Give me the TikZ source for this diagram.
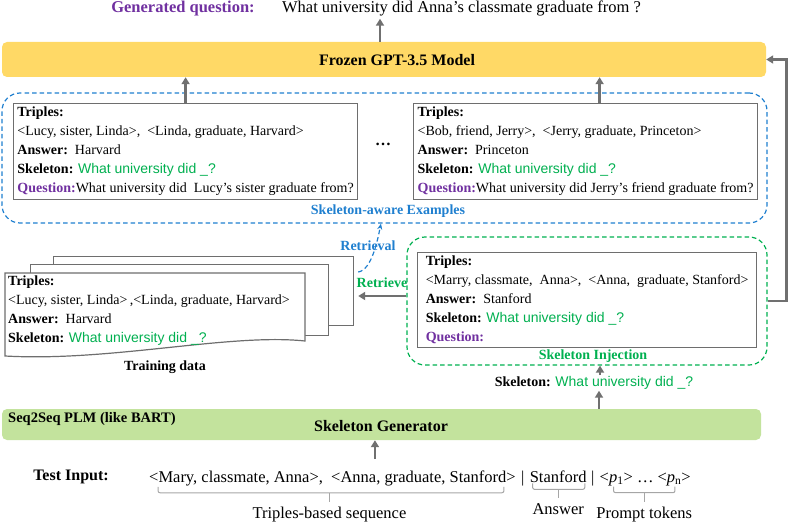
\documentclass[tikz,border=0pt]{standalone}
\usepackage{fontspec}
\setmainfont{Liberation Serif}
\newfontfamily\skelfont{Liberation Sans}
\usetikzlibrary{arrows.meta,
	positioning,
	calc}

\definecolor{qpurple}{HTML}{7030A0}
\definecolor{exblue}{HTML}{1F7FCF}
\definecolor{skgreen}{HTML}{00B050}
\definecolor{gptyellow}{HTML}{FFD966}
\definecolor{gengreen}{HTML}{C3E39D}
\definecolor{arrowgray}{HTML}{707070}
\definecolor{boxgray}{HTML}{6E6E6E}
\definecolor{bracegray}{HTML}{A6A6A6}

\tikzset{
	modelbox/.style={rounded corners=5pt, minimum height=35pt, inner sep=0pt},
	examplebox/.style={draw=boxgray, line width=1.2pt, fill=white, align=left,
		inner sep=2pt, anchor=north west, font=\fontsize{14}{19}\selectfont},
	region/.style={line width=1.2pt, dash pattern=on 4.5pt off 3pt,
		rounded corners=18pt, inner sep=0pt},
	grayarrow/.style={draw=arrowgray, line width=2.5pt, -{Triangle[length=7pt,width=8pt]}},
	sheet/.style={draw=boxgray, line width=1.2pt, fill=white, inner sep=0pt, anchor=north west},
	tokbrace/.style={draw=bracegray, line width=1pt, rounded corners=2pt},
	toklabel/.style={font=\fontsize{16.5}{18}\selectfont, inner sep=1pt, anchor=north},
	seqtext/.style={font=\fontsize{16.5}{18}\selectfont, inner sep=1pt},
	boldlabel/.style={font=\fontsize{14}{16}\selectfont\bfseries, inner sep=1pt}
}
\newcommand{\skeltext}{{\color{skgreen}\skelfont What university did \_?}}

\begin{document}
\begin{tikzpicture}[x=1pt,y=-1pt]
	\useasboundingbox (0,0) rectangle (789,524);

	%generated question
	\node[font=\fontsize{16.5}{18}\selectfont\bfseries, text=qpurple, inner sep=2pt] (genlbl) at (183,9) {Generated question:};
	\node[font=\fontsize{16.5}{18}\selectfont, inner sep=2pt, base right=23pt of genlbl] (genq) {What university did Anna’s classmate graduate from ?};

	%frozen model
	\node[modelbox, fill=gptyellow, minimum width=764pt] (gpt) at (384,59.5) {};
	\node[font=\fontsize{16}{18}\selectfont\bfseries] (gptlbl) at (397,60) {Frozen GPT-3.5 Model};
	\draw[grayarrow] ($(gpt.north)+(-4,0)$) -- ($(gpt.north |- genq.south)+(-4,0)$);

	%skeleton-aware examples
	\node[region, draw=exblue, minimum width=765pt, minimum height=130pt] (examples) at (384.5,158) {};
	\node[boldlabel, text=exblue] (exlbl) at (388,211) {Skeleton-aware Examples};

	\node[examplebox, minimum width=344pt, minimum height=96pt] (ex1) at (13,103) {%
		\textbf{Triples:}\\
		<Lucy, sister, Linda>,\ \ <Linda, graduate, Harvard>\\
		\textbf{Answer:}\ \ Harvard\\
		\textbf{Skeleton:} \skeltext\\
		\textbf{\color{qpurple}Question:}What university did\ \ Lucy’s sister graduate from?};
	\node[examplebox, minimum width=344pt, minimum height=96pt] (ex2) at (413,103) {%
		\textbf{Triples:}\\
		<Bob, friend, Jerry>,\ \ <Jerry, graduate, Princeton>\\
		\textbf{Answer:}\ \ Princeton\\
		\textbf{Skeleton:} \skeltext\\
		\textbf{\color{qpurple}Question:}What university did Jerry’s friend graduate from?};
	\node[font=\fontsize{16}{18}\selectfont\bfseries] (exdots) at (383,144) {…};

	\draw[grayarrow] (ex1.north) -- (ex1.north |- gpt.south);
	\draw[grayarrow] ($(ex2.north)+(14,0)$) -- ($(ex2.north |- gpt.south)+(14,0)$);

	%training data
	\node[sheet, minimum width=300pt, minimum height=69pt] (sheetback) at (53,256) {};
	\node[sheet, minimum width=298pt, minimum height=71pt] (sheetmid) at (30,264) {};
	\draw[draw=boxgray, line width=1.2pt, fill=white] (5,273) -- (305,273) -- (305,341)
		.. controls (230,333) and (110,362) .. (5,356) -- cycle;
	\node[anchor=north west, align=left, inner sep=3pt, font=\fontsize{14}{18.7}\selectfont] (train) at (5,273) {%
		\textbf{Triples:}\\
		<Lucy, sister, Linda>\,,<Linda, graduate, Harvard>\\
		\textbf{Answer:}\ \ Harvard\\
		\textbf{Skeleton:} \skeltext};
	\node[boldlabel] (trainlbl) at (165,367) {Training data};

	%skeleton injection
	\node[region, draw=skgreen, minimum width=360pt, minimum height=128pt] (injregion) at (587,301) {};
	\node[examplebox, minimum width=339pt, minimum height=95pt] (query) at (417,252) {%
		\textbf{Triples:}\\
		<Marry, classmate,\ \ Anna>,\ \ <Anna,\ \ graduate, Stanford>\\
		\textbf{Answer:}\ \ Stanford\\
		\textbf{Skeleton:} \skeltext\\
		\textbf{\color{qpurple}Question:}};
	\node[boldlabel, text=skgreen] (injlbl) at (593,356) {Skeleton Injection};

	%retrieval
	\node[boldlabel, text=exblue] (retrievallbl) at (368,246) {Retrieval};
	\node[boldlabel, text=skgreen] (retrievelbl) at (382,283) {Retrieve};
	\draw[grayarrow] ($(injregion.west)+(0,-5)$) -- ($(injregion.west -| sheetback.east)+(4,-5)$);
	\draw[exblue, line width=1.2pt, dash pattern=on 4.5pt off 3pt, -{Stealth[length=6pt,width=5pt]}]
		($(sheetback.north east)+(4,16)$) .. controls +(14,-2) and +(-3,14) .. ($(examples.south)+(-3.5,0)$);

	%back to the model
	\draw[grayarrow] (injregion.east) -- ++(19,0) |- (gpt.east);

	%skeleton generator
	\node[font=\fontsize{14}{16}\selectfont, inner sep=1pt] (skelout) at (594,383) {\textbf{Skeleton:} \skeltext};
	\draw[grayarrow] ($(skelout.north)+(6,0)$) -- ($(skelout.north |- injregion.south)+(6,0)$);

	\node[modelbox, fill=gengreen, minimum width=759pt, minimum height=31pt] (gen) at (381.5,424.5) {};
	\node[font=\fontsize{16}{18}\selectfont\bfseries] (genname) at (381,426) {Skeleton Generator};
	\node[font=\fontsize{14.5}{16}\selectfont\bfseries, anchor=west, inner sep=1pt] (plmlbl) at (7,419) {Seq2Seq PLM (like BART)};
	\draw[grayarrow] ($(skelout.south |- gen.north)+(5,0)$) -- ($(skelout.south)+(5,0)$);

	%test input
	\node[font=\fontsize{16}{18}\selectfont\bfseries] (testlbl) at (71,477) {Test Input:};
	\node[seqtext, anchor=base west] (seqtrip) at (148,482) {<Mary, classmate, Anna>,\ \ <Anna, graduate, Stanford>};
	\node[seqtext, base right=3pt of seqtrip] (bar1) {|};
	\node[seqtext, base right=3pt of bar1] (seqans) {Stanford};
	\node[seqtext, base right=2pt of seqans] (bar2) {|};
	\node[seqtext, base right=3pt of bar2] (seqprompt) {<\textit{p}\textsubscript{1}> … <\textit{p}\textsubscript{n}>};
	\draw[grayarrow] ($(seqtrip.north)+(42.5,-10)$) -- ($(seqtrip.north |- gen.south)+(42.5,0)$);

	%braces
	\draw[tokbrace] ($(seqtrip.south west)+(10,0)$) -- ++(0,6) -- ($(seqtrip.south east)+(-13,6)$) -- ++(0,-6);
	\coordinate (triptick) at ($(seqtrip.south)+(-3,15)$);
	\draw[tokbrace] ($(seqtrip.south)+(-3,6)$) -- (triptick);
	\node[toklabel] (triplbl) at ($(triptick)+(0,4)$) {Triples-based sequence};

	\draw[tokbrace] ($(seqans.south west)+(4,0)$) -- ++(0,6) -- ($(seqans.south east)+(-3,6)$) -- ++(0,-6);
	\coordinate (anstick) at ($(seqans.south)+(0,15)$);
	\draw[tokbrace] ($(seqans.south)+(0,6)$) -- (anstick);
	\node[toklabel] (anslbl) at ($(anstick)+(0,4)$) {Answer};

	\draw[tokbrace] ($(seqprompt.south west)+(15,0)$) -- ++(0,6) -- ($(seqprompt.south east)+(-17,6)$) -- ++(0,-6);
	\coordinate (prompttick) at ($(seqprompt.south)+(-1,15)$);
	\draw[tokbrace] ($(seqprompt.south)+(-1,6)$) -- (prompttick);
	\node[toklabel] (promptlbl) at ($(prompttick)+(0,4)$) {Prompt tokens};
\end{tikzpicture}
\end{document}
